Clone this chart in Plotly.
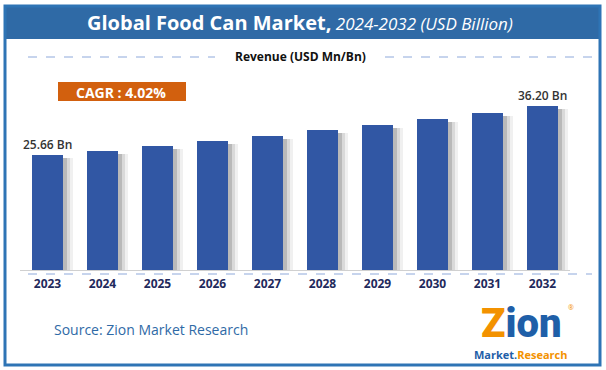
import plotly.graph_objects as go

years = ["2023", "2024", "2025", "2026", "2027", "2028", "2029", "2030", "2031", "2032"]
revenue = [25.66, 26.5, 27.6, 28.7, 29.7, 31.0, 32.1, 33.4, 34.7, 36.20]
label_years = ["2023", "2032"]
label_texts = ["25.66 Bn", "36.20 Bn"]
cagr_text = "CAGR : 4.02%"

W, H = 606, 370
PX_L, PX_R = 20, 570
PY_T, PY_B = 60, 270
unit = (PX_R - PX_L) / len(years)  # px per category
bar_w = 31 / unit
bar_off = -bar_w / 2

BLUE_BAR = "#3157A4"
FRAME = "#2E74B5"
HEADER = "#2F6AA6"
FONT = "Open Sans"

fig = go.Figure()

# shadows
for extra, alpha in [(10, 0.08), (7, 0.12), (4, 0.2)]:
    fig.add_trace(go.Bar(
        x=years, y=[v - 0.6 for v in revenue],
        width=bar_w + extra / unit, offset=bar_off,
        marker=dict(color=f"rgba(60,60,60,{alpha})", line=dict(width=0)),
        hoverinfo="skip", showlegend=False))

fig.add_trace(go.Bar(
    x=years, y=revenue, width=bar_w, offset=bar_off,
    marker=dict(color=BLUE_BAR, line=dict(width=0)),
    showlegend=False))

annos = []
for yr, txt in zip(label_years, label_texts):
    idx = years.index(yr)
    annos.append(dict(x=idx, y=revenue[idx], xref="x", yref="y", text=txt, showarrow=False,
                      yanchor="bottom", xanchor="center", yshift=0,
                      font=dict(family=FONT, size=12, color="#333333", weight=600)))

shapes = []
shapes.append(dict(type="rect", xref="paper", yref="paper", x0=5/W, x1=600/W, y0=1-39/H, y1=1-6/H,
                   line=dict(width=0), fillcolor=HEADER, layer="below"))
shapes.append(dict(type="rect", xref="paper", yref="paper", x0=5/W, x1=600/W, y0=1-365/H, y1=1-6/H,
                   line=dict(color=FRAME, width=3), fillcolor="rgba(0,0,0,0)", layer="above"))
for x0, x1 in [(28, 215), (385, 592)]:
    shapes.append(dict(type="line", xref="paper", yref="paper", x0=x0/W, x1=x1/W, y0=1-57/H, y1=1-57/H,
                       line=dict(color="#8EA9DB", width=1, dash="dash")))
shapes.append(dict(type="line", xref="paper", yref="paper", x0=28/W, x1=592/W, y0=1-274/H, y1=1-274/H,
                   line=dict(color="#8EA9DB", width=1, dash="dash")))
shapes.append(dict(type="rect", xref="paper", yref="paper", x0=58/W, x1=186/W, y0=1-101/H, y1=1-82/H,
                   line=dict(width=0), fillcolor="#D2600E", layer="below"))

def pa(x, y, text, font, xanchor="center"):
    return dict(x=x/W, y=1-y/H, xref="paper", yref="paper", showarrow=False,
                xanchor=xanchor, yanchor="middle", text=text, font=font)

annos += [
    pa(300, 22, "<b>Global Food Can Market,</b><i><span style='font-size:17px'> 2024-2032 (USD Billion)</span></i>",
       dict(family=FONT, size=20, color="white")),
    pa(300, 56, "<b>Revenue (USD Mn/Bn)</b>", dict(family=FONT, size=12, color="#111111")),
    pa(121, 92, "<b>" + cagr_text + "</b>", dict(family=FONT, size=14, color="white")),
    pa(52, 329, "Source: Zion Market Research", dict(family=FONT, size=14, color="#2F6AA6"), "left"),
    pa(521, 323, "<span style='color:#F39200'>Z</span>ion",
       dict(family="Roboto", size=40, color="#1F5FA8", weight=900)),
    pa(571, 307, "®", dict(family=FONT, size=7, color="#F39200")),
    pa(521, 354, "<b>Market.<span style='color:#F39200'>Research</span></b>",
       dict(family=FONT, size=11, color="#1F5FA8")),
]

ymin = 0.92
px_per = 4.65
ymax = ymin + (PY_B - PY_T) / px_per

fig.update_layout(
    width=W, height=H, margin=dict(l=0, r=0, t=0, b=0),
    paper_bgcolor="white", plot_bgcolor="white",
    barmode="overlay", bargap=0,
    shapes=shapes, annotations=annos,
    xaxis=dict(domain=[PX_L/W, PX_R/W], type="category", range=[-0.5, len(years)-0.5],
               showgrid=False, zeroline=False, showline=True, linecolor="#D0D0D0", linewidth=1,
               ticks="", ticklabelstandoff=3,
               tickfont=dict(family=FONT, size=12, color="#1F2A5C", weight="bold"),
               fixedrange=True),
    yaxis=dict(domain=[1-PY_B/H, 1-PY_T/H], range=[ymin, ymax], visible=False, fixedrange=True),
    font=dict(family=FONT),
)

fig.write_html("out.html", post_script="document.body.style.margin='0';",
               config={"displayModeBar": False})
